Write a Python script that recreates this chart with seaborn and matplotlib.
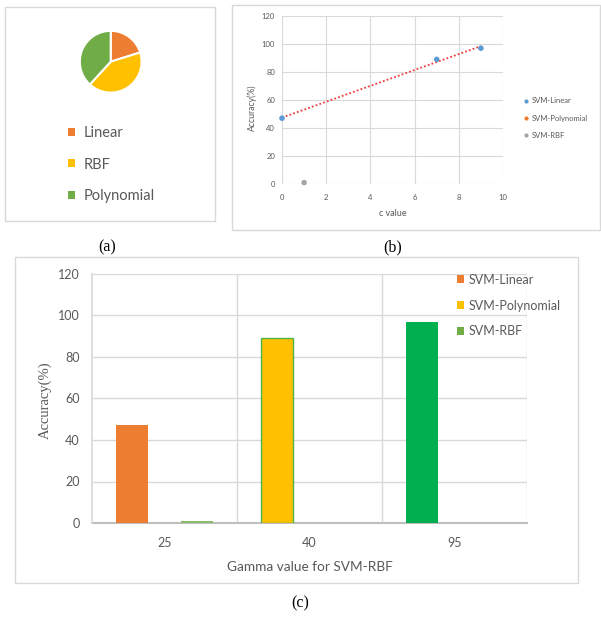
import numpy as np
import pandas as pd
import matplotlib
matplotlib.use("Agg")
import matplotlib.pyplot as plt
from matplotlib.patches import Rectangle, Patch
from matplotlib.lines import Line2D
import seaborn as sns

# ---- data -------------------------------------------------------------
# (a) share of each kernel
pie_labels = ["Linear", "RBF", "Polynomial"]
pie_values = [47, 97, 89]
pie_colors = ["#ED7D31", "#FFC000", "#70AD47"]

# (b) accuracy against c value
series_names = ["SVM-Linear", "SVM-Polynomial", "SVM-RBF"]
series_colors = ["#5B9BD5", "#ED7D31", "#A5A5A5"]
linear_c = [0, 7, 9]
linear_acc = [47, 89, 97]
poly_c = []
poly_acc = []
rbf_c = [1]
rbf_acc = [1]

# (c) accuracy against gamma value
gamma_values = ["25", "40", "95"]
bar_linear = [47, 89, 97]
bar_poly = [0, 0, 0]
bar_rbf = [1, 0, 0]
first_bar_colors = ["#ED7D31", "#FFC000", "#00B050"]
legend_c_colors = ["#ED7D31", "#FFC000", "#70AD47"]

# ---- style ------------------------------------------------------------
sns.set_theme(style="white")
plt.rcParams["font.family"] = ["Lato", "DejaVu Sans"]
TXT = "#595959"
GRID = "#D9D9D9"
SERIF = ["Liberation Serif", "DejaVu Serif"]

W, H = 601, 619
fig = plt.figure(figsize=(W / 100, H / 100), dpi=100)


def frac(x0, y0, x1, y1):
    """Pixel box (top-left origin) -> figure fraction rect."""
    return [x0 / W, 1 - y1 / H, (x1 - x0) / W, (y1 - y0) / H]


def box(x0, y0, x1, y1):
    r = frac(x0, y0, x1, y1)
    fig.add_artist(Rectangle((r[0], r[1]), r[2], r[3], transform=fig.transFigure,
                             fill=False, edgecolor=GRID, linewidth=1.0))


def fx(x):
    return x / W


def fy(y):
    return 1 - y / H


# ---- (a) pie ----------------------------------------------------------
box(5, 7, 215, 221)
r = 31.5
cx, cy = 110.7, 61.7
ax_a = fig.add_axes(frac(cx - r, cy - r, cx + r, cy + r))
ax_a.pie(pie_values, colors=pie_colors, startangle=90, counterclock=False,
         wedgeprops=dict(edgecolor="white", linewidth=1.5))
ax_a.set_xlim(-1.02, 1.02)
ax_a.set_ylim(-1.02, 1.02)
ax_a.set_aspect("equal")
ax_a.axis("off")

handles_a = [Patch(facecolor=c, edgecolor="none", label=l)
             for c, l in zip(pie_colors, pie_labels)]
fig.legend(handles=handles_a, loc="center left",
           bbox_to_anchor=(fx(68), fy(164.5)), frameon=False,
           fontsize=10.5, labelcolor=TXT, handlelength=0.5, handleheight=0.5,
           handletextpad=0.55, labelspacing=1.2, borderpad=0, borderaxespad=0)
fig.text(fx(107), fy(247), "(a)", family=SERIF, fontsize=11.5,
         ha="center", va="center", color="black")

# ---- (b) scatter ------------------------------------------------------
box(232, 5, 600, 230)
ax_b = fig.add_axes(frac(282, 16, 503, 184))
df_b = pd.DataFrame({
    "c": linear_c + poly_c + rbf_c,
    "acc": linear_acc + poly_acc + rbf_acc,
    "model": (["SVM-Linear"] * len(linear_c) + ["SVM-Polynomial"] * len(poly_c)
              + ["SVM-RBF"] * len(rbf_c)),
})
sns.regplot(x=linear_c, y=linear_acc, scatter=False, ci=None, ax=ax_b,
            line_kws=dict(color="#F03C3C", linestyle=(0, (1, 1.2)), linewidth=1.3))
sns.scatterplot(data=df_b, x="c", y="acc", hue="model", hue_order=series_names,
                palette=dict(zip(series_names, series_colors)), s=16,
                edgecolor="none", legend=False, ax=ax_b, zorder=3, clip_on=False)
ax_b.set_xlim(0, 10)
ax_b.set_ylim(0, 120)
ax_b.set_xticks(np.arange(0, 11, 2))
ax_b.set_yticks(np.arange(0, 121, 20))
ax_b.grid(True, color=GRID, linewidth=0.8)
ax_b.set_axisbelow(True)
for s in ax_b.spines.values():
    s.set_visible(False)
ax_b.tick_params(length=0, labelsize=5.5, labelcolor=TXT)
ax_b.tick_params(axis="y", pad=5)
ax_b.tick_params(axis="x", pad=7)
ax_b.set_xlabel("")
ax_b.set_ylabel("")
fig.text(fx(393), fy(213), "c value", fontsize=6.5, color=TXT, ha="center", va="center")
fig.text(fx(252), fy(108), "Accuracy(%)", fontsize=6.2, color=TXT, ha="center",
         va="center", rotation=90)

handles_b = [Line2D([], [], marker="o", linestyle="none", markersize=3,
                    markerfacecolor=c, markeredgecolor="none", label=l)
             for c, l in zip(series_colors, series_names)]
fig.legend(handles=handles_b, loc="center left", bbox_to_anchor=(fx(524), fy(118)),
           frameon=False, fontsize=5.5, labelcolor=TXT, handlelength=0.6,
           handletextpad=0.4, labelspacing=1.35, borderpad=0, borderaxespad=0)
fig.text(fx(393), fy(247), "(b)", family=SERIF, fontsize=11.5,
         ha="center", va="center", color="black")

# ---- (c) grouped bars -------------------------------------------------
box(15, 257, 578, 583)
ax_c = fig.add_axes(frac(92, 274, 527, 523))
df_c = pd.DataFrame({
    "gamma": gamma_values * 3,
    "acc": bar_linear + bar_poly + bar_rbf,
    "series": ["SVM-Linear"] * 3 + ["SVM-Polynomial"] * 3 + ["SVM-RBF"] * 3,
})
sns.barplot(data=df_c, x="gamma", y="acc", hue="series", hue_order=series_names,
            order=gamma_values, width=0.67, errorbar=None, legend=False, ax=ax_c,
            palette=dict(zip(series_names, legend_c_colors)), zorder=3)

# colour the bars of each series
for bar, col in zip(ax_c.containers[0], first_bar_colors):
    bar.set_facecolor(col)
    bar.set_edgecolor("none")
ax_c.containers[0][1].set_edgecolor("#4DB34D")
ax_c.containers[0][1].set_linewidth(1.0)
for bar in ax_c.containers[1]:
    bar.set_linewidth(0)
for bar in ax_c.containers[2]:
    bar.set_facecolor("#8DBB6E")
    bar.set_edgecolor("none")
    bar.set_linewidth(0)

ax_c.set_xlim(-0.5, 2.5)
ax_c.set_ylim(0, 120)
ax_c.set_yticks(np.arange(0, 121, 20))
ax_c.set_xticks([0.5, 1.5, 2.5], minor=True)
ax_c.grid(True, which="major", axis="y", color=GRID, linewidth=1.0)
ax_c.grid(True, which="minor", axis="x", color=GRID, linewidth=1.0)
ax_c.set_axisbelow(True)
for name, s in ax_c.spines.items():
    s.set_visible(name in ("left", "bottom"))
ax_c.spines["left"].set_color(GRID)
ax_c.spines["bottom"].set_color("#BFBFBF")
ax_c.spines["bottom"].set_linewidth(1.5)
ax_c.spines["bottom"].set_zorder(2)
ax_c.tick_params(which="both", length=0, labelsize=9, labelcolor=TXT)
ax_c.tick_params(axis="y", pad=9)
ax_c.tick_params(axis="x", pad=10)
ax_c.set_xlabel("")
ax_c.set_ylabel("")
fig.text(fx(310), fy(567), "Gamma value for SVM-RBF", fontsize=9.8, color=TXT,
         ha="center", va="center")
fig.text(fx(45), fy(400), "Accuracy(%)", family=SERIF, fontsize=10.5, color=TXT,
         ha="center", va="center", rotation=90)

handles_c = [Patch(facecolor=c, edgecolor="none", label=l)
             for c, l in zip(legend_c_colors, series_names)]
fig.legend(handles=handles_c, loc="center left", bbox_to_anchor=(fx(457), fy(305.5)),
           frameon=False, fontsize=9, labelcolor=TXT, handlelength=0.58,
           handleheight=0.58, handletextpad=0.35, labelspacing=1.1, borderpad=0,
           borderaxespad=0)
fig.text(fx(300), fy(603), "(c)", family=SERIF, fontsize=11.5,
         ha="center", va="center", color="black")

fig.savefig("out.png", dpi=100, facecolor="white")
